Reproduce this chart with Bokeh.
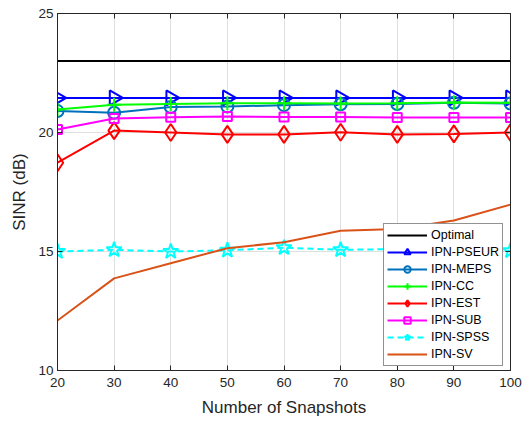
import numpy as np
from bokeh.plotting import figure
from bokeh.models import LinearAxis, Legend, LegendItem, FixedTicker, Range1d
from bokeh.embed import file_html
from bokeh.resources import INLINE

snapshots = [20, 30, 40, 50, 60, 70, 80, 90, 100]
optimal = [23.0] * 9
ipn_pseur = [21.45, 21.45, 21.45, 21.45, 21.45, 21.45, 21.45, 21.45, 21.45]
ipn_meps = [20.9, 20.83, 21.07, 21.09, 21.15, 21.19, 21.2, 21.25, 21.22]
ipn_cc = [20.97, 21.17, 21.2, 21.23, 21.23, 21.22, 21.23, 21.26, 21.25]
ipn_est = [18.73, 20.08, 20.0, 19.92, 19.92, 20.01, 19.92, 19.94, 20.0]
ipn_sub = [20.13, 20.59, 20.64, 20.67, 20.65, 20.65, 20.63, 20.63, 20.63]
ipn_spss = [15.0, 15.07, 15.0, 15.05, 15.16, 15.07, 15.1, 15.08, 15.03]
ipn_sv = [12.1, 13.87, 14.51, 15.14, 15.39, 15.87, 15.95, 16.3, 16.97]

x_ticks = [20, 30, 40, 50, 60, 70, 80, 90, 100]
y_ticks = [10, 15, 20, 25]

FONT = "Liberation Sans"
AX = "#262626"

p = figure(width=526, height=422, output_backend="svg", toolbar_location=None,
           x_range=Range1d(20, 100), y_range=Range1d(10, 25),
           min_border_left=57, min_border_right=16, min_border_top=13, min_border_bottom=52)
p.background_fill_color = "white"
p.border_fill_color = "white"
p.outline_line_color = AX
p.outline_line_width = 1

bottom = p.below[0]
left = p.left[0]
bottom.ticker = FixedTicker(ticks=x_ticks)
bottom.axis_label = "Number of Snapshots"
left.ticker = FixedTicker(ticks=y_ticks)
left.axis_label = "SINR (dB)"

top = LinearAxis(ticker=FixedTicker(ticks=x_ticks))
right = LinearAxis(ticker=FixedTicker(ticks=y_ticks))
p.add_layout(top, "above")
p.add_layout(right, "right")

for ax in [bottom, left, top, right]:
    ax.axis_line_color = AX
    ax.major_tick_line_color = AX
    ax.major_tick_in = 5
    ax.major_tick_out = 0
    ax.minor_tick_line_color = None
    ax.major_label_text_font = FONT
    ax.major_label_text_font_size = "13.5px"
    ax.major_label_text_color = AX
    ax.axis_label_text_font = FONT
    ax.axis_label_text_font_size = "17px"
    ax.axis_label_text_font_style = "normal"
    ax.axis_label_text_color = AX
for ax in [top, right]:
    ax.major_label_text_font_size = "0px"
    ax.major_label_standoff = 0
    ax.major_label_text_alpha = 0
bottom.major_label_standoff = 7
left.major_label_standoff = 4
bottom.axis_label_standoff = 8
left.axis_label_standoff = 6

p.xgrid.grid_line_color = "#dfdfdf"
p.ygrid.grid_line_color = "#dfdfdf"
p.xgrid.ticker = FixedTicker(ticks=x_ticks)
p.ygrid.ticker = FixedTicker(ticks=y_ticks)

items = []

def series(name, ys, color, marker=None, size=12, dash="solid", angle=0.0, lw=2):
    rs = [p.line(snapshots, ys, line_color=color, line_width=lw, line_dash=dash)]
    if marker is not None:
        rs.append(p.scatter(snapshots, ys, marker=marker, size=size, angle=angle,
                            angle_units="rad",
                            line_color=color, fill_color=None, line_width=2))
    items.append(LegendItem(label=name, renderers=rs))

series("Optimal", optimal, "black")
series("IPN-PSEUR", ipn_pseur, "#0000FF", "triangle", 15, angle=-np.pi / 2)
series("IPN-MEPS", ipn_meps, "#0072BD", "circle", 12)
series("IPN-CC", ipn_cc, "#00FF00", "cross", 14)
series("IPN-EST", ipn_est, "#FF0000", "diamond", 17)
series("IPN-SUB", ipn_sub, "#FF00FF", "square", 9)
series("IPN-SPSS", ipn_spss, "#00FFFF", "star", 16, dash="6 4")
series("IPN-SV", ipn_sv, "#D95319")

legend = Legend(items=items, location=(326, 4), label_text_font=FONT,
                label_text_font_size="12.5px", label_text_color="black",
                glyph_width=40, glyph_height=16, label_height=16, spacing=1,
                padding=3, margin=0, label_standoff=4,
                border_line_color=AX, border_line_width=1,
                background_fill_color="white", background_fill_alpha=1.0)
p.add_layout(legend, "center")

open("out.html", "w").write(file_html(p, INLINE))
